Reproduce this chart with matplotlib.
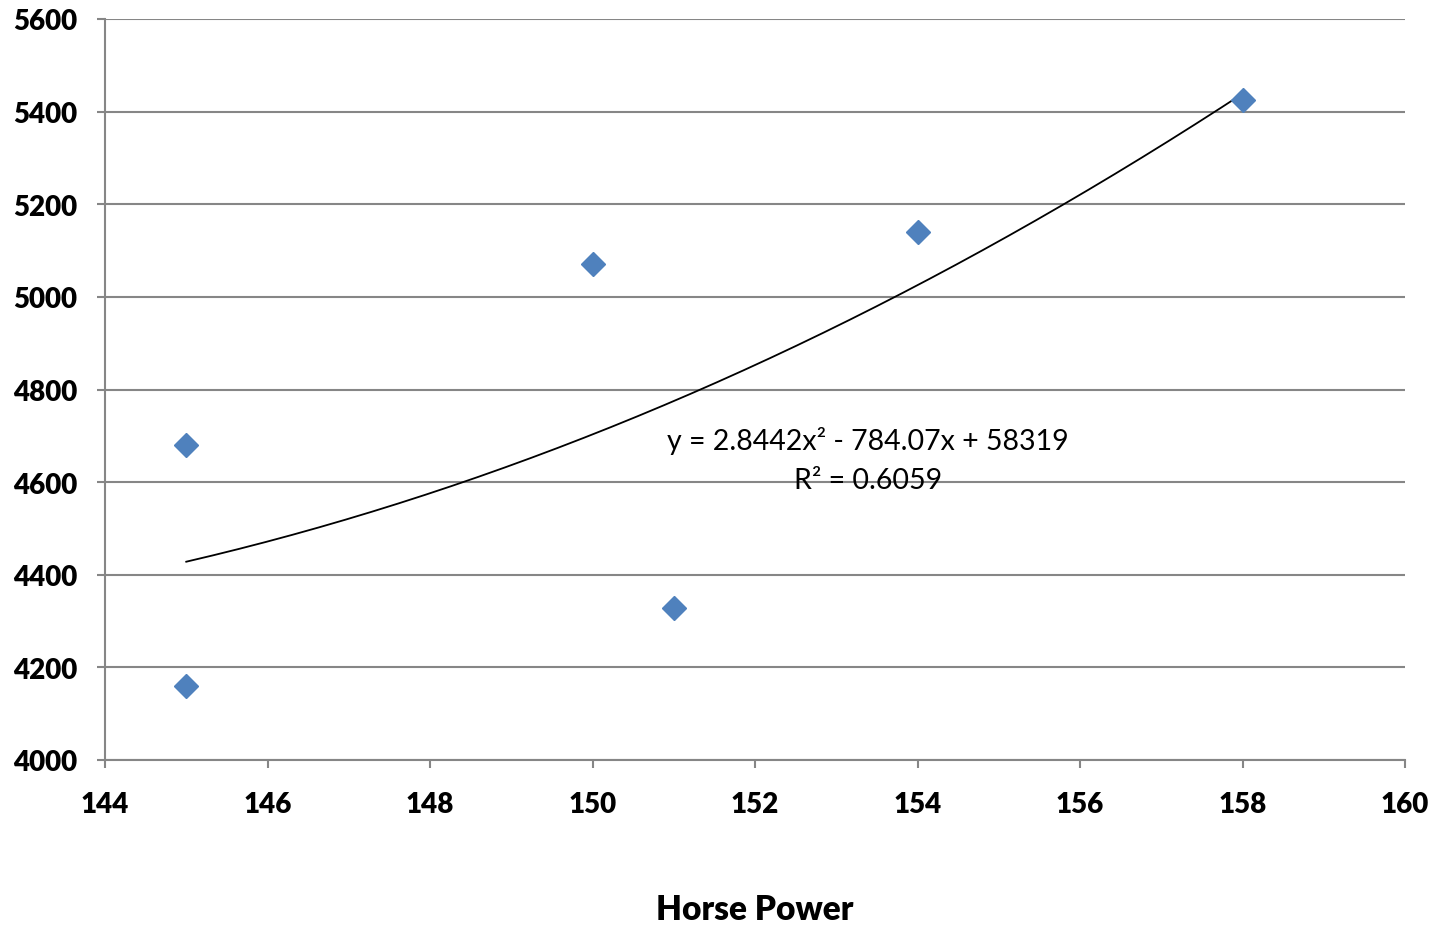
import numpy as np
import matplotlib.pyplot as plt

plt.rcParams["font.family"] = ["Lato", "DejaVu Sans"]

# data
horse_power = [145, 145, 150, 151, 154, 158]
values = [4680, 4160, 5072, 4328, 5140, 5425]

# trendline coefficients shown on the chart
coef = [2.8442, -784.07, 58319]
r_squared = 0.6059

x_ticks = [144, 146, 148, 150, 152, 154, 156, 158, 160]
y_ticks = [4000, 4200, 4400, 4600, 4800, 5000, 5200, 5400, 5600]

fig = plt.figure(figsize=(14.42, 9.28), dpi=100)
ax = fig.add_axes([105 / 1442, 1 - 761 / 928, 1300 / 1442, 741 / 928])

grid_color = "#868686"

# trendline
xs = np.linspace(min(horse_power), max(horse_power), 200)
ax.plot(xs, np.polyval(coef, xs), color="black", lw=1.3, zorder=2)

# points
ax.plot(horse_power, values, linestyle="none", marker="D", markersize=12,
        color="#4F81BD", markeredgecolor="#4F81BD", zorder=3)

ax.set_xlim(144, 160)
ax.set_ylim(4000, 5600)
ax.set_xticks(x_ticks)
ax.set_yticks(y_ticks)
ax.yaxis.grid(True, color=grid_color, lw=1.5)
ax.set_axisbelow(True)

for s in ["top", "right"]:
    ax.spines[s].set_visible(False)
for s in ["left", "bottom"]:
    ax.spines[s].set_color(grid_color)
    ax.spines[s].set_linewidth(1.5)

ax.tick_params(axis="both", colors=grid_color, width=1.5, length=6,
               labelcolor="black", labelsize=20)
ax.tick_params(axis="x", pad=16)
ax.tick_params(axis="y", pad=14)
for lbl in ax.get_xticklabels() + ax.get_yticklabels():
    lbl.set_fontweight("heavy")

fig.text(755 / 1442, 1 - 910 / 928, "Horse Power", ha="center", va="center",
         fontsize=24, fontweight="heavy")

ax.text(153.39, 4690, "y = 2.8442x² - 784.07x + 58319", ha="center",
        va="center", fontsize=20.5)
ax.text(153.39, 4604, "R² = %.4f" % r_squared, ha="center", va="center",
        fontsize=20.5)

fig.savefig("out.png", dpi=100)
